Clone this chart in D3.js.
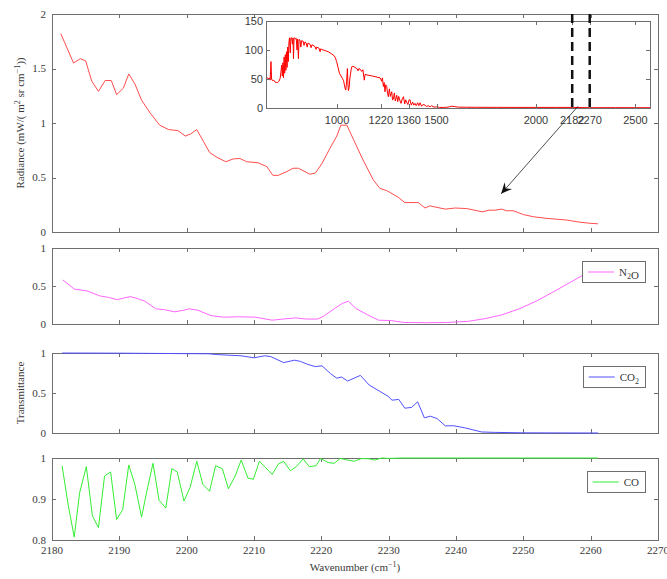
<!DOCTYPE html>
<html>
<head>
<meta charset="utf-8">
<script src="https://cdn.jsdelivr.net/npm/d3@7"></script>
<style>
  html, body { margin: 0; padding: 0; background: #fff; }
  svg { display: block; }
</style>
</head>
<body>
<svg id="chart" width="667" height="579"></svg>
<script>
// ---- data -------------------------------------------------------------
// Radiance in the 2180–2270 cm-1 window (mW/(m2 sr cm-1))
const radWn = [2181.3, 2183.2, 2184.2, 2185.0, 2185.9, 2186.9, 2187.9, 2188.8, 2189.6, 2190.6,
  2191.4, 2192.3, 2193.3, 2194.6, 2196.0, 2197.3, 2198.7, 2199.8, 2200.6, 2201.5,
  2202.5, 2203.4, 2204.5, 2205.8, 2206.9, 2207.9, 2208.9, 2210.6, 2211.9, 2212.8,
  2213.6, 2214.9, 2215.8, 2216.6, 2218.3, 2219.1, 2220.1, 2221.3, 2222.3, 2222.9,
  2223.8, 2224.8, 2226.2, 2227.7, 2228.7, 2229.7, 2231.4, 2232.4, 2234.4, 2235.4,
  2236.1, 2238.4, 2239.9, 2241.6, 2243.9, 2244.9, 2245.8, 2246.8, 2247.5, 2248.5,
  2250.0, 2251.5, 2253.5, 2256.4, 2258.4, 2259.9, 2261.1];
const radVal = [1.82, 1.55, 1.59, 1.57, 1.385, 1.29, 1.39, 1.39, 1.26, 1.32,
  1.45, 1.36, 1.21, 1.09, 0.98, 0.94, 0.93, 0.88, 0.90, 0.94,
  0.83, 0.73, 0.685, 0.645, 0.67, 0.675, 0.645, 0.635, 0.60, 0.52,
  0.52, 0.555, 0.585, 0.585, 0.53, 0.54, 0.63, 0.77, 0.88, 0.98,
  0.98, 0.845, 0.66, 0.48, 0.40, 0.38, 0.32, 0.27, 0.27, 0.22,
  0.24, 0.21, 0.22, 0.215, 0.185, 0.20, 0.20, 0.21, 0.195, 0.195,
  0.16, 0.14, 0.125, 0.11, 0.09, 0.08, 0.075];

// N2O transmittance
const n2oWn = [2181.6, 2183.3, 2185.2, 2187.1, 2188.4, 2189.7, 2190.6, 2191.6, 2192.5, 2193.8,
  2195.4, 2196.6, 2198.2, 2199.5, 2200.4, 2201.7, 2203.6, 2205.5, 2207.7, 2210.2,
  2212.7, 2214.3, 2216.2, 2217.8, 2219.4, 2220.3, 2221.9, 2223.1, 2224.0, 2225.2,
  2226.9, 2228.5, 2230.4, 2232.3, 2235.5, 2238.6, 2241.8, 2244.3, 2246.8, 2249.4,
  2251.9, 2254.4, 2257.0, 2258.8, 2261.1];
const n2oVal = [0.58, 0.46, 0.435, 0.37, 0.35, 0.32, 0.34, 0.36, 0.34, 0.30,
  0.20, 0.19, 0.16, 0.18, 0.20, 0.18, 0.11, 0.09, 0.095, 0.09,
  0.05, 0.065, 0.08, 0.065, 0.065, 0.10, 0.20, 0.27, 0.30, 0.20,
  0.12, 0.05, 0.045, 0.02, 0.017, 0.02, 0.035, 0.07, 0.12, 0.20,
  0.30, 0.42, 0.55, 0.64, 0.74];

// CO2 transmittance
const co2Wn = [2181.5, 2190.0, 2203.3, 2204.6, 2208.1, 2210.0, 2211.6, 2212.5, 2214.4, 2216.0,
  2216.9, 2217.9, 2219.1, 2220.1, 2221.4, 2222.3, 2223.0, 2223.9, 2225.8, 2227.1,
  2228.6, 2229.9, 2230.5, 2231.5, 2232.4, 2233.4, 2234.3, 2235.3, 2236.2, 2237.2,
  2238.4, 2239.7, 2241.3, 2242.5, 2243.8, 2245.7, 2250.1, 2261.1];
const co2Val = [1.0, 0.998, 0.99, 0.98, 0.965, 0.94, 0.965, 0.955, 0.88, 0.91,
  0.895, 0.86, 0.83, 0.84, 0.74, 0.685, 0.70, 0.65, 0.72, 0.60,
  0.525, 0.46, 0.41, 0.42, 0.31, 0.32, 0.39, 0.19, 0.21, 0.18,
  0.09, 0.09, 0.065, 0.04, 0.013, 0.008, 0.002, 0.0];

// CO transmittance
const coWn = [2181.5, 2182.4, 2183.3, 2184.1, 2185.1, 2186.0, 2186.9, 2187.8, 2188.7, 2189.6,
  2190.5, 2191.4, 2192.3, 2193.3, 2194.2, 2195.0, 2195.9, 2196.9, 2197.8, 2198.6,
  2199.6, 2200.5, 2201.5, 2202.4, 2203.4, 2204.3, 2205.3, 2206.2, 2207.2, 2208.1,
  2209.1, 2209.9, 2210.8, 2211.7, 2212.7, 2213.6, 2214.4, 2215.4, 2216.3, 2217.3,
  2218.2, 2219.2, 2219.9, 2221.0, 2221.9, 2222.8, 2223.9, 2224.9, 2226.0, 2227.1,
  2227.9, 2229.0, 2229.9, 2232.0, 2235.0, 2240.0, 2261.1];
const coVal = [0.981, 0.886, 0.807, 0.915, 0.979, 0.859, 0.830, 0.956, 0.966, 0.850,
  0.874, 0.983, 0.936, 0.856, 0.928, 0.987, 0.897, 0.878, 0.974, 0.966,
  0.895, 0.928, 0.992, 0.936, 0.919, 0.981, 0.974, 0.925, 0.956, 0.995,
  0.951, 0.948, 0.992, 0.977, 0.960, 0.985, 0.992, 0.969, 0.979, 0.998,
  0.979, 0.981, 0.999, 0.989, 0.987, 0.999, 0.995, 0.992, 0.999, 0.998,
  0.995, 1.0, 0.999, 1.0, 1.0, 1.0, 1.0];

// Full spectrum shown in the inset (wavenumber cm-1, radiance)
const specWn = [648, 655, 660, 664, 668, 671, 676, 682, 688, 695, 702, 708, 714, 718, 722, 725,
  728, 731, 734, 737, 740, 743, 746, 749, 752, 755, 758, 761, 765, 768, 772, 776, 779, 781,
  784, 788, 792, 795, 799, 802, 806, 809, 814, 818, 822, 830, 834, 839, 845, 850, 854, 864,
  870, 874, 889, 895, 898, 910, 915, 918, 923, 940, 956, 970, 986, 992, 998, 1005, 1012,
  1020, 1027, 1033, 1037, 1041, 1044, 1048, 1052, 1055, 1057, 1061, 1064, 1067, 1071, 1074,
  1080, 1090, 1100, 1106, 1110, 1116, 1124, 1130, 1137, 1141, 1150, 1180, 1216, 1220, 1224,
  1228, 1233, 1237, 1241, 1245, 1250, 1254, 1258, 1263, 1268, 1275, 1279, 1283, 1288, 1293,
  1300, 1305, 1310, 1317, 1322, 1328, 1334, 1340, 1345, 1350, 1356, 1362, 1367, 1373, 1380,
  1386, 1392, 1398, 1405, 1411, 1417, 1425, 1432, 1442, 1450, 1458, 1468, 1475, 1488, 1501,
  1515, 1534, 1550, 1565, 1576, 1590, 1610, 1650, 1700, 1800, 1900, 2000, 2100, 2182, 2270,
  2400, 2573];
const specRad = [53, 50, 52, 48, 80, 50, 47, 48, 45, 44, 44, 46, 51, 62, 74, 55,
  78, 52, 88, 60, 92, 65, 97, 70, 105, 80, 112, 121, 95, 121, 121, 110, 121, 85,
  120, 121, 119, 120, 100, 119, 85, 118, 117, 105, 116, 115, 108, 114, 112, 105, 112, 110,
  104, 109, 106, 101, 105, 103, 97, 102, 101, 99, 97, 94, 90, 86, 80, 70, 60,
  55, 51, 47, 40, 33, 31, 45, 68, 40, 30, 35, 50, 57, 66, 71,
  72, 70, 68, 64, 68, 67, 63, 66, 48, 58, 57, 55, 52, 50, 46,
  52, 37, 44, 28, 40, 37, 25, 19.5, 33, 20, 28, 14, 15, 26, 12,
  22, 11, 20, 12, 8, 16, 19.5, 7, 14, 10, 6, 14, 14, 5, 10,
  5, 8, 4, 9, 4, 9, 3, 6, 5, 2.5, 4, 2, 4, 1.5, 2,
  1, 1, 1.2, 2, 3, 2.5, 1.5, 1.3, 1.2, 1.1, 1.0, 1.0, 1.0, 1.0, 0.5,
  0.6, 0.5];

const xTicks = [2180, 2190, 2200, 2210, 2220, 2230, 2240, 2250, 2260, 2270];
const radTicks = [0, 0.5, 1, 1.5, 2];
const transTicks = [0, 0.5, 1];
const coTicks = [0.8, 0.9, 1];
const insetXTicks = [1000, 1220, 1360, 1500, 2000, 2182, 2270, 2500];
const insetYTicks = [0, 50, 100, 150];
const bandEdges = [2182, 2270];

// ---- layout -----------------------------------------------------------
const svg = d3.select("#chart");
const serif = "'Liberation Serif', 'Times New Roman', serif";
const sans = "'Liberation Sans', Arial, sans-serif";
const axisColor = "#6e6e6e";
const textColor = "#3a3a3a";
const left = 52, right = 658;

const x = d3.scaleLinear().domain([2180, 2270]).range([left, right]);

// Draw a MATLAB-style boxed axes with inward ticks on all four sides
function boxedAxes(g, xs, ys, yTicks, opts) {
  const [x0, x1] = xs.range();
  const [y0, y1] = ys.range(); // y0 bottom, y1 top
  const tl = opts.tickLen || 4;
  g.append("rect").attr("x", x0).attr("y", y1).attr("width", x1 - x0).attr("height", y0 - y1)
    .attr("fill", opts.fill || "none").attr("stroke", axisColor).attr("stroke-width", 1)
    .attr("shape-rendering", "crispEdges");
  const xt = opts.xTicks;
  g.selectAll(null).data(xt).enter().append("line")
    .attr("x1", d => Math.round(xs(d)) + 0.5).attr("x2", d => Math.round(xs(d)) + 0.5)
    .attr("y1", y0).attr("y2", y0 - tl).attr("stroke", axisColor);
  g.selectAll(null).data(xt).enter().append("line")
    .attr("x1", d => Math.round(xs(d)) + 0.5).attr("x2", d => Math.round(xs(d)) + 0.5)
    .attr("y1", y1).attr("y2", y1 + tl).attr("stroke", axisColor);
  g.selectAll(null).data(yTicks).enter().append("line")
    .attr("x1", x0).attr("x2", x0 + tl)
    .attr("y1", d => Math.round(ys(d)) + 0.5).attr("y2", d => Math.round(ys(d)) + 0.5)
    .attr("stroke", axisColor);
  g.selectAll(null).data(yTicks).enter().append("line")
    .attr("x1", x1).attr("x2", x1 - tl)
    .attr("y1", d => Math.round(ys(d)) + 0.5).attr("y2", d => Math.round(ys(d)) + 0.5)
    .attr("stroke", axisColor);
  g.selectAll(null).data(yTicks).enter().append("text")
    .attr("x", x0 - (opts.yLabelGap || 6)).attr("y", d => ys(d)).attr("dy", "0.35em")
    .attr("text-anchor", "end").attr("font-family", opts.font || serif)
    .attr("font-size", opts.fontSize || 11).attr("fill", textColor)
    .text(d => opts.yFormat ? opts.yFormat(d) : d);
  if (opts.xLabels) {
    g.selectAll(null).data(xt).enter().append("text")
      .attr("x", d => xs(d)).attr("y", y0 + (opts.xLabelGap || 14))
      .attr("text-anchor", "middle").attr("font-family", opts.font || serif)
      .attr("font-size", opts.fontSize || 11).attr("fill", textColor)
      .text(d => d);
  }
}

function drawLine(g, xs, ys, wn, vals, color, width) {
  const pts = wn.map((w, i) => [w, vals[i]]);
  g.append("path").datum(pts)
    .attr("d", d3.line().x(d => xs(d[0])).y(d => ys(d[1])))
    .attr("fill", "none").attr("stroke", color).attr("stroke-width", width || 1)
    .attr("stroke-linejoin", "round");
}

function legend(g, xs, ys, color, parts) {
  const [, x1] = xs.range();
  const top = ys.range()[1];
  const grp = g.append("g");
  const txt = grp.append("text").attr("font-family", serif).attr("font-size", 11).attr("fill", textColor);
  parts.forEach(p => {
    if (p.sub) {
      txt.append("tspan").attr("dy", "3").attr("font-size", 8).text(p.t);
      txt.append("tspan").attr("dy", "-3").text("");
    } else {
      txt.append("tspan").text(p.t);
    }
  });
  const tw = txt.node().getComputedTextLength();
  const h = 21, lineLen = 26;
  const w = 6 + lineLen + 5 + tw + 6;
  const bx = x1 - 13 - w, by = top + 13;
  grp.insert("rect", "text").attr("x", Math.round(bx) + 0.5).attr("y", Math.round(by) + 0.5)
    .attr("width", Math.round(w)).attr("height", h)
    .attr("fill", "#fff").attr("stroke", axisColor);
  grp.append("line").attr("x1", bx + 6).attr("x2", bx + 6 + lineLen)
    .attr("y1", by + h / 2 + 0.5).attr("y2", by + h / 2 + 0.5).attr("stroke", color);
  txt.attr("x", bx + 6 + lineLen + 5).attr("y", by + h / 2 + 4);
}

// ---- top panel: radiance ---------------------------------------------
const yRad = d3.scaleLinear().domain([0, 2]).range([232, 14]);
const gTop = svg.append("g");
boxedAxes(gTop, x, yRad, radTicks, { xTicks: xTicks });
drawLine(gTop, x, yRad, radWn, radVal, "#ff4d4d", 1);

svg.append("text")
  .attr("transform", `translate(24,${(yRad(0) + yRad(2)) / 2}) rotate(-90)`)
  .attr("text-anchor", "middle").attr("font-family", serif).attr("font-size", 11)
  .attr("fill", textColor)
  .call(t => {
    t.append("tspan").text("Radiance (mW/( m");
    t.append("tspan").attr("dy", -4).attr("font-size", 8).text("2");
    t.append("tspan").attr("dy", 4).text(" sr cm");
    t.append("tspan").attr("dy", -4).attr("font-size", 8).text("\u22121");
    t.append("tspan").attr("dy", 4).text("))");
  });

// ---- inset: full spectrum ----------------------------------------------
const xIn = d3.scaleLinear().domain([643, 2573]).range([266, 650]);
const yIn = d3.scaleLinear().domain([0, 150]).range([108, 21]);
const gIn = svg.append("g");
gIn.append("rect").attr("x", 266).attr("y", 21).attr("width", 384).attr("height", 87).attr("fill", "#fff");
drawLine(gIn, xIn, yIn, specWn, specRad, "#ff0000", 1);
boxedAxes(gIn, xIn, yIn, insetYTicks, {
  xTicks: insetXTicks, xLabels: true, font: sans, fontSize: 11, tickLen: 4,
  yLabelGap: 3, xLabelGap: 16
});

// dashed markers for the 2182–2270 window
svg.selectAll(null).data(bandEdges).enter().append("line")
  .attr("x1", d => xIn(d)).attr("x2", d => xIn(d))
  .attr("y1", yRad(2)).attr("y2", yIn(0))
  .attr("stroke", "#111").attr("stroke-width", 2.5).attr("stroke-dasharray", "9,5");

// arrow from the window in the inset down to the zoomed curve
(function () {
  const start = [xIn(2211), yIn(3)];
  const tip = [x(2246.7), yRad(0.35)];
  svg.append("line").attr("x1", start[0]).attr("y1", start[1])
    .attr("x2", tip[0]).attr("y2", tip[1]).attr("stroke", "#222").attr("stroke-width", 0.8);
  const dx = tip[0] - start[0], dy = tip[1] - start[1];
  const L = Math.hypot(dx, dy), ux = dx / L, uy = dy / L, nx = -uy, ny = ux;
  const len = 11, half = 5, notch = 7;
  const p = [
    tip,
    [tip[0] - len * ux + half * nx, tip[1] - len * uy + half * ny],
    [tip[0] - notch * ux, tip[1] - notch * uy],
    [tip[0] - len * ux - half * nx, tip[1] - len * uy - half * ny]
  ];
  svg.append("path").attr("d", "M" + p.map(q => q.join(",")).join("L") + "Z").attr("fill", "#111");
})();

// ---- N2O panel ---------------------------------------------------------
const yN2o = d3.scaleLinear().domain([0, 1]).range([324, 248]);
const gN = svg.append("g");
boxedAxes(gN, x, yN2o, transTicks, { xTicks: xTicks });
drawLine(gN, x, yN2o, n2oWn, n2oVal, "#ff66ff", 1);
legend(gN, x, yN2o, "#ff66ff", [{ t: "N" }, { t: "2", sub: true }, { t: "O" }]);

// ---- CO2 panel ---------------------------------------------------------
const yCo2 = d3.scaleLinear().domain([0, 1]).range([433, 353]);
const gC = svg.append("g");
boxedAxes(gC, x, yCo2, transTicks, { xTicks: xTicks });
drawLine(gC, x, yCo2, co2Wn, co2Val, "#5050ff", 1);
legend(gC, x, yCo2, "#5050ff", [{ t: "CO" }, { t: "2", sub: true }]);

svg.append("text")
  .attr("transform", `translate(24,${(yCo2(0) + yCo2(1)) / 2}) rotate(-90)`)
  .attr("text-anchor", "middle").attr("font-family", serif).attr("font-size", 11)
  .attr("fill", textColor).text("Transmittance");

// ---- CO panel ----------------------------------------------------------
const yCo = d3.scaleLinear().domain([0.8, 1]).range([540, 458]);
const gO = svg.append("g");
boxedAxes(gO, x, yCo, coTicks, { xTicks: xTicks, xLabels: true });
drawLine(gO, x, yCo, coWn, coVal, "#33ee33", 1);
legend(gO, x, yCo, "#33ee33", [{ t: "CO" }]);

svg.append("text")
  .attr("x", (left + right) / 2).attr("y", 571)
  .attr("text-anchor", "middle").attr("font-family", serif).attr("font-size", 11)
  .attr("fill", textColor)
  .call(t => {
    t.append("tspan").text("Wavenumber (cm");
    t.append("tspan").attr("dy", -4).attr("font-size", 8).text("\u22121");
    t.append("tspan").attr("dy", 4).text(")");
  });
</script>
</body>
</html>
